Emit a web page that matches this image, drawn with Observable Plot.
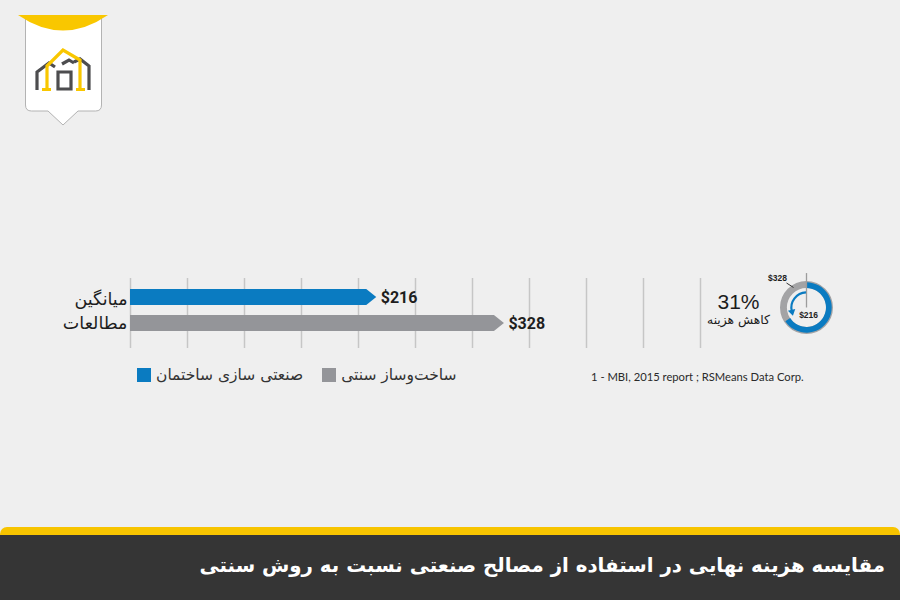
<!DOCTYPE html>
<html>
<head>
<meta charset="utf-8">
<script src="https://cdn.jsdelivr.net/npm/d3@7"></script>
<script src="https://cdn.jsdelivr.net/npm/@observablehq/plot@0.6"></script>
<style>
html, body { margin: 0; padding: 0; }
body { width: 900px; height: 600px; background: #efefef; position: relative; overflow: hidden; font-family: "DejaVu Sans", sans-serif; }
.abs { position: absolute; }
#band-y { left: 0; top: 527px; width: 900px; height: 73px; background: #f7c400; border-radius: 7px 7px 0 0; }
#band-d { left: 0; top: 535px; width: 900px; height: 65px; background: #353535; }
#title { right: 15px; top: 566px; transform: translateY(-50%); color: #fff; font-weight: bold; font-size: 22px; line-height: 1; white-space: nowrap; direction: rtl; font-family: "DejaVu Sans", sans-serif; }
#chart { left: 0; top: 278px; width: 900px; height: 70px; }
#donut { left: 756px; top: 268px; width: 110px; height: 80px; }
#pct { left: 738.5px; top: 301px; transform: translate(-50%, -50%); font-size: 21px; line-height: 1; color: #1c1c1c; font-family: "Liberation Sans", Arial, sans-serif; white-space: nowrap; }
#pctText { left: 738.5px; top: 320px; transform: translate(-50%, -50%); font-size: 12px; line-height: 1; color: #1c1c1c; direction: rtl; white-space: nowrap; }
#source { left: 591px; top: 376.5px; transform: translateY(-50%); font-size: 12px; line-height: 1; color: #2a2a2a; font-family: "Lato", sans-serif; white-space: nowrap; }
#legend { left: 137px; top: 364.5px; }
#legend div { min-height: 0 !important; margin: 0 !important; height: 20px; font-size: 15.5px !important; font-family: "DejaVu Sans", sans-serif !important; color: #333 !important; display: flex !important; align-items: center !important; }
#legend span { margin-right: 19px !important; display: inline-flex !important; align-items: center !important; white-space: nowrap; }
#legend svg { margin-right: 5px !important; }
</style>
</head>
<body>
<svg class="abs" style="left:0;top:0" width="130" height="135">
  <path d="M25.5,15 V105 Q25.5,111 31.5,111 H48 L63,125 L78,111 H95.5 Q101.5,111 101.5,105 V15" fill="#ffffff" stroke="#b3b3b3" stroke-width="1"/>
  <path d="M18,15 Q63,46 108,15 Z" fill="#f9c700"/>
  <path d="M37,90 V72 L49,63 L55,67 M58,89 V72 H71 V89 Z M62,64 L69,60 L74,63 M74,62 L80,59 L89,66 V90" fill="none" stroke="#4d4d4f" stroke-width="3.2" stroke-linejoin="miter"/>
  <path d="M47,89 V66 L63,50 L80,60 V89 M42,89.5 H51 M76,89.5 H85" fill="none" stroke="#f9c700" stroke-width="3.2"/>
</svg>

<div id="chart" class="abs"></div>
<div id="donut" class="abs"></div>
<div id="pct" class="abs"></div>
<div id="pctText" class="abs"></div>
<div id="legend" class="abs"></div>
<div id="source" class="abs"></div>
<div id="band-y" class="abs"></div>
<div id="band-d" class="abs"></div>
<div id="title" class="abs"></div>

<script>
// ---------- data ----------
const seriesNames = ["صنعتی سازی ساختمان", "ساخت‌وساز سنتی"];
const seriesValues = [216, 328];
const seriesColors = ["#0a7bc1", "#949599"];
const categoryLabel = "میانگین\nمطالعات";
const gridTicks = [0, 50, 100, 150, 200, 250, 300, 350, 400, 450, 500];
const reductionLabel = "31%";
const reductionText = "کاهش هزینه";
const sourceText = "1 - MBI, 2015 report ; RSMeans Data Corp.";
const titleText = "مقایسه هزینه نهایی در استفاده از مصالح صنعتی نسبت به روش سنتی";

const data = seriesNames.map((s, i) => ({series: s, value: seriesValues[i], color: seriesColors[i]}));

// ---------- main bar chart ----------
function arrowBars(index, scales) {
  const {x, y} = scales;
  const bw = y.bandwidth();
  const tip = 10;
  const g = d3.create("svg:g");
  data.forEach(d => {
    const x0 = x(0), x1 = x(d.value), y0 = y(d.series), y1 = y0 + bw, ym = y0 + bw / 2;
    g.append("path")
      .attr("d", `M${x0},${y0}H${x1 - tip}L${x1},${ym}L${x1 - tip},${y1}H${x0}Z`)
      .attr("fill", d.color);
  });
  return g.node();
}

const chart = Plot.plot({
  width: 900, height: 70,
  marginTop: 0, marginBottom: 0, marginLeft: 130, marginRight: 0.5,
  style: {background: "transparent", overflow: "visible"},
  x: {domain: [0, 675], axis: null},
  y: {type: "band", domain: seriesNames, axis: null, paddingInner: 0.385, paddingOuter: 0.5385, align: 0.393},
  marks: [
    Plot.ruleX(gridTicks, {stroke: "#c6c6c6", strokeWidth: 1.5}),
    arrowBars,
    Plot.text(data, {x: "value", y: "series", text: d => "$" + d.value, textAnchor: "start", dx: 4,
      fontSize: 16, fontWeight: "bold", fill: "#1e1e1e", fontFamily: "Roboto"}),
    Plot.text([categoryLabel], {frameAnchor: "left", dx: -3, dy: -4, textAnchor: "end",
      fontSize: 17.5, lineHeight: 1.33, fill: "#1e1e1e", fontFamily: "DejaVu Sans"})
  ]
});
document.getElementById("chart").appendChild(chart);

// ---------- donut ----------
const W = 110, H = 80, CX = 50.5, CY = 39.5, R = 26.5;
const donutLabels = [
  {text: "$" + seriesValues[1], x: -1.113, y: 1.132},
  {text: "$" + seriesValues[0], x: 0.06, y: -0.283}
];
const leader = [[-0.755, 0.925], [-0.49, 0.755]];

function donutMark(index, scales) {
  const {x, y} = scales;
  const X0 = x(0), Y0 = y(0), r = x(1) - x(0);
  const g = d3.create("svg:g");
  const arc = d3.arc();
  const frac = seriesValues[0] / seriesValues[1];
  g.append("path").attr("transform", `translate(${X0},${Y0})`)
    .attr("d", arc({innerRadius: 0.735 * r, outerRadius: r, startAngle: 0, endAngle: 2 * Math.PI}))
    .attr("fill", "#a3a3a5");
  g.append("path").attr("transform", `translate(${X0},${Y0})`)
    .attr("d", arc({innerRadius: 0.735 * r, outerRadius: r - 1.3, startAngle: 0, endAngle: 2 * Math.PI * frac}))
    .attr("fill", seriesColors[0]);
  g.append("line").attr("x1", X0).attr("y1", Y0).attr("x2", X0).attr("y2", y(1.3))
    .attr("stroke", "#9c9c9c").attr("stroke-width", 1.3);
  // arrow
  const ra = 0.57 * r;
  const pt = a => [X0 + ra * Math.sin(a), Y0 - ra * Math.cos(a)];
  const a0 = -2 * Math.PI / 180, a1 = -103 * Math.PI / 180;
  const [sx, sy] = pt(a0), [ex, ey] = pt(a1);
  g.append("path").attr("d", `M${sx},${sy}A${ra},${ra} 0 0 0 ${ex},${ey}`)
    .attr("fill", "none").attr("stroke", seriesColors[0]).attr("stroke-width", 2.2);
  const dx = -Math.cos(a1), dy = -Math.sin(a1);
  const px = -dy, py = dx;
  const tx = ex + dx * 5, ty = ey + dy * 5, bx = ex - dx * 1, by = ey - dy * 1;
  g.append("path").attr("d", `M${tx},${ty}L${bx + px * 3.8},${by + py * 3.8}L${bx - px * 3.8},${by - py * 3.8}Z`)
    .attr("fill", seriesColors[0]);
  // leader line
  g.append("line").attr("x1", x(leader[0][0])).attr("y1", y(leader[0][1]))
    .attr("x2", x(leader[1][0])).attr("y2", y(leader[1][1]))
    .attr("stroke", "#333").attr("stroke-width", 1);
  return g.node();
}

const donut = Plot.plot({
  width: W, height: H, margin: 0,
  style: {background: "transparent", overflow: "visible"},
  x: {domain: [-CX / R, (W - CX) / R], axis: null},
  y: {domain: [-(H - CY) / R, CY / R], axis: null},
  marks: [
    donutMark,
    Plot.text(donutLabels, {x: "x", y: "y", text: "text", fontSize: 8.5, fontWeight: "bold",
      fill: "#1e1e1e", fontFamily: "Liberation Sans"})
  ]
});
document.getElementById("donut").appendChild(donut);

// ---------- legend ----------
const legend = Plot.legend({
  color: {type: "ordinal", domain: seriesNames, range: seriesColors},
  swatchSize: 14
});
document.getElementById("legend").appendChild(legend);

// ---------- texts ----------
document.getElementById("pct").textContent = reductionLabel;
document.getElementById("pctText").textContent = reductionText;
document.getElementById("source").textContent = sourceText;
document.getElementById("title").textContent = titleText;

function fit(id, target) {
  const el = document.getElementById(id);
  const w = el.getBoundingClientRect().width;
  const fs = parseFloat(getComputedStyle(el).fontSize);
  if (w > 0) el.style.fontSize = (fs * target / w) + "px";
}
fit("title", 686);
fit("source", 213);
fit("pctText", 63);
</script>
</body>
</html>
